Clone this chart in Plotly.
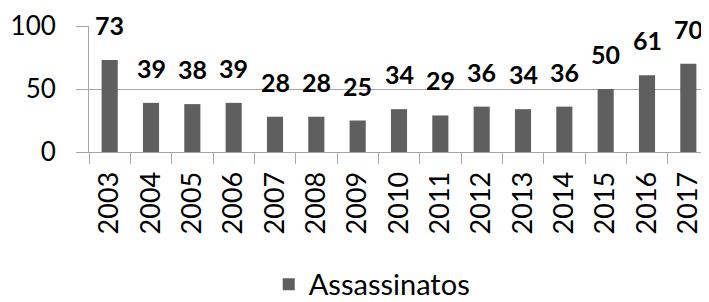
import plotly.graph_objects as go

years = ["2003", "2004", "2005", "2006", "2007", "2008", "2009", "2010",
         "2011", "2012", "2013", "2014", "2015", "2016", "2017"]
assassinatos = [73, 39, 38, 39, 28, 28, 25, 34, 29, 36, 34, 36, 50, 61, 70]
y_ticks = [0, 50, 100]

FONT = "Lato"
GRID = "#a6a6a6"

fig = go.Figure()
fig.add_trace(go.Bar(
    x=years, y=assassinatos, name="Assassinatos",
    marker=dict(color="#5f5f5f", line=dict(width=0)),
))

# category index positions on the category axis
for i, v in enumerate(assassinatos):
    fig.add_annotation(
        x=i, y=v, text=f"<b>{v}</b>", showarrow=False,
        yanchor="middle", xanchor="center", yshift=35,
        font=dict(family=FONT, size=25, color="#000000"),
    )

# page body has an 8px default margin, so the figure is 8px smaller
fig.update_layout(
    width=701, height=294,
    margin=dict(l=81, r=0, t=18, b=150, autoexpand=False),
    plot_bgcolor="white", paper_bgcolor="white",
    bargap=0.61,
    showlegend=True,
    legend=dict(
        orientation="h", x=0.456, xanchor="center", y=-1.05, yanchor="middle",
        font=dict(family=FONT, size=29, color="#000000"),
        bgcolor="rgba(0,0,0,0)",
    ),
    font=dict(family=FONT, color="#000000"),
)

fig.update_xaxes(
    type="category", tickson="boundaries", range=[-0.5, len(years) - 0.5],
    ticks="outside", ticklen=11, tickcolor=GRID, tickwidth=1,
    showline=True, linecolor=GRID, linewidth=1,
    tickangle=-90, tickfont=dict(family=FONT, size=27, color="#000000"),
    ticklabelstandoff=8,
    showgrid=False, automargin=False,
)
fig.update_yaxes(
    range=[0, 100], tickvals=y_ticks,
    ticks="outside", ticklen=12, tickcolor=GRID, tickwidth=1,
    showline=True, linecolor=GRID, linewidth=1,
    showgrid=True, gridcolor=GRID, gridwidth=1,
    zeroline=False, automargin=False,
    tickfont=dict(family=FONT, size=26, color="#000000"),
    ticklabelstandoff=15,
)

fig.write_html("out.html")
